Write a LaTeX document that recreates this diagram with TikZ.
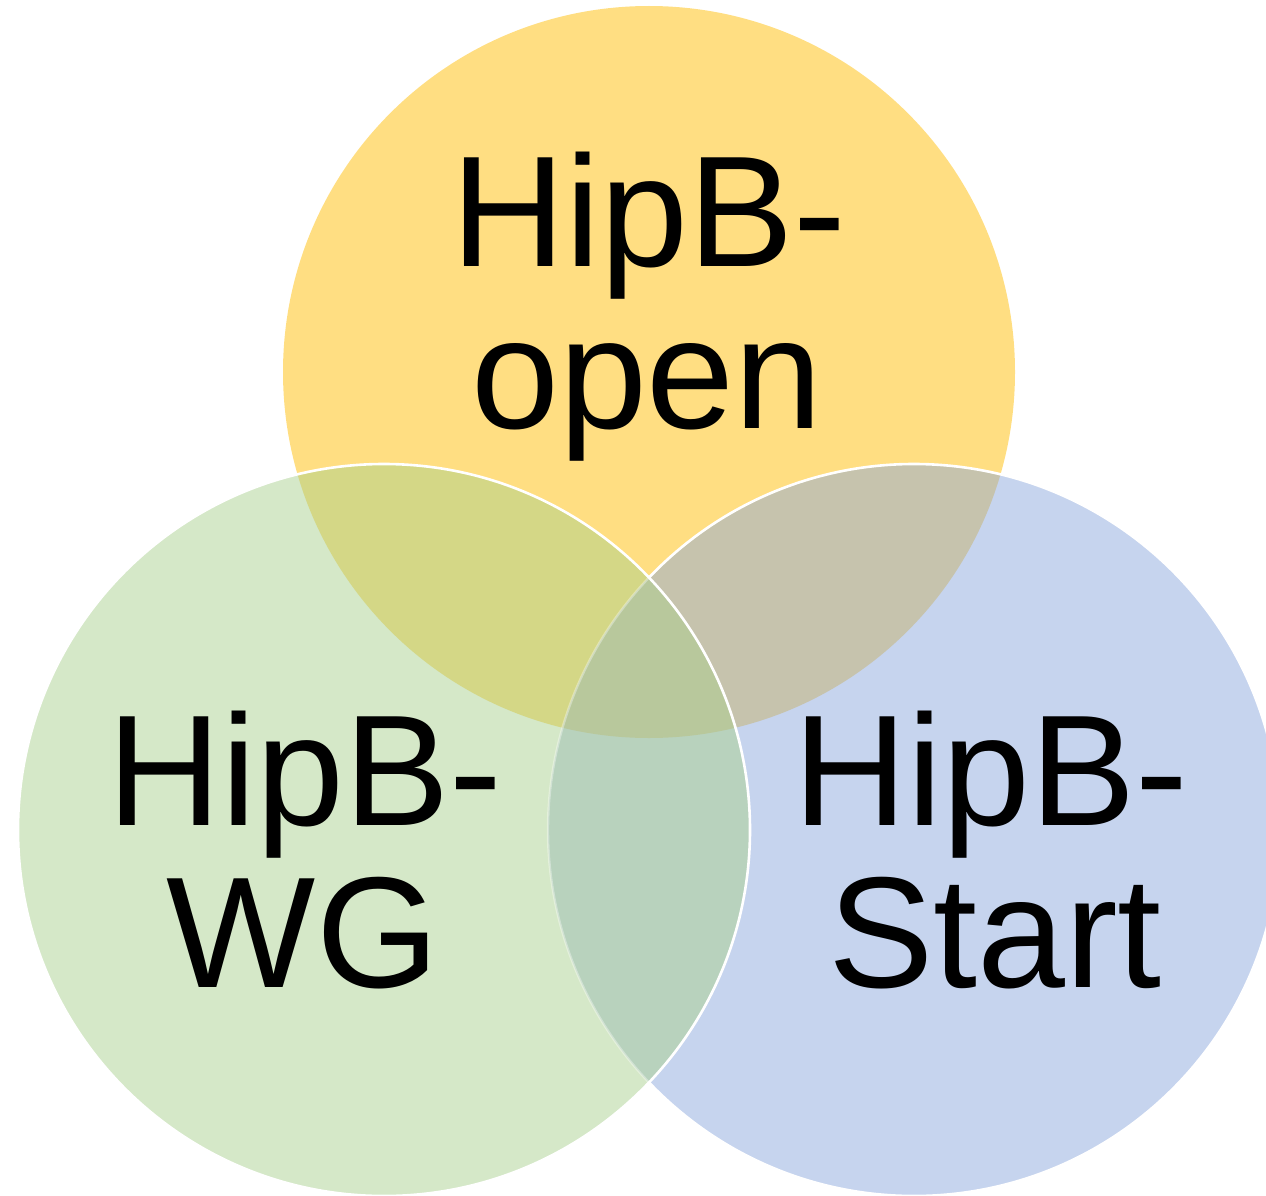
\documentclass[tikz,border=0pt]{standalone}
\usepackage{fontspec}
\setmainfont{Liberation Sans}
\definecolor{cY}{HTML}{FFDE82}
\definecolor{cG}{HTML}{D5E8C8}
\definecolor{cB}{HTML}{C6D4EE}
\definecolor{cYG}{HTML}{D4D786}
\definecolor{cYB}{HTML}{C6C3AD}
\definecolor{cGB}{HTML}{B8D2BD}
\definecolor{cYGB}{HTML}{B8C89C}
\tikzset{
  lbl/.style={font=\fontsize{158}{162}\selectfont, inner sep=0pt, anchor=base, text=black},
  rim/.style={white, line width=2.6pt},
  faintrim/.style={white, opacity=0.35, line width=2.4pt}
}
\begin{document}
\begin{tikzpicture}[x=1pt,y=-1pt]
\useasboundingbox (0,0) rectangle (1266,1196);
\clip (0,0) rectangle (1266,1196);
\coordinate (Y) at (649,372);
\coordinate (G) at (384,830);
\coordinate (B) at (914,830);
\def\R{366pt}
% yellow and blue layers
\fill[cY] (Y) circle[radius=\R];
\fill[cB] (B) circle[radius=\R];
\begin{scope}
  \clip (Y) circle[radius=\R];
  \fill[cYB] (B) circle[radius=\R];
\end{scope}
\draw[rim] (B) circle[radius=\R];
% green layer
\fill[cG] (G) circle[radius=\R];
\begin{scope}
  \clip (G) circle[radius=\R];
  \fill[cYG] (Y) circle[radius=\R];
  \fill[cGB] (B) circle[radius=\R];
  \clip (Y) circle[radius=\R];
  \fill[cYGB] (B) circle[radius=\R];
\end{scope}
\begin{scope}
  \clip (G) circle[radius=\R];
  \draw[faintrim] (B) circle[radius=\R];
\end{scope}
\draw[rim] (G) circle[radius=\R];
% labels
\node[lbl] (t1) at (649,266) {HipB-};
\node[lbl] (t2) at (647,428) {open};
\node[lbl] (l1) at (305,825) {HipB-};
\node[lbl] (l2) at (303,987) {WG};
\node[lbl] (r1) at (991,825) {HipB-};
\node[lbl] (r2) at (995,987) {Start};
\end{tikzpicture}
\end{document}
